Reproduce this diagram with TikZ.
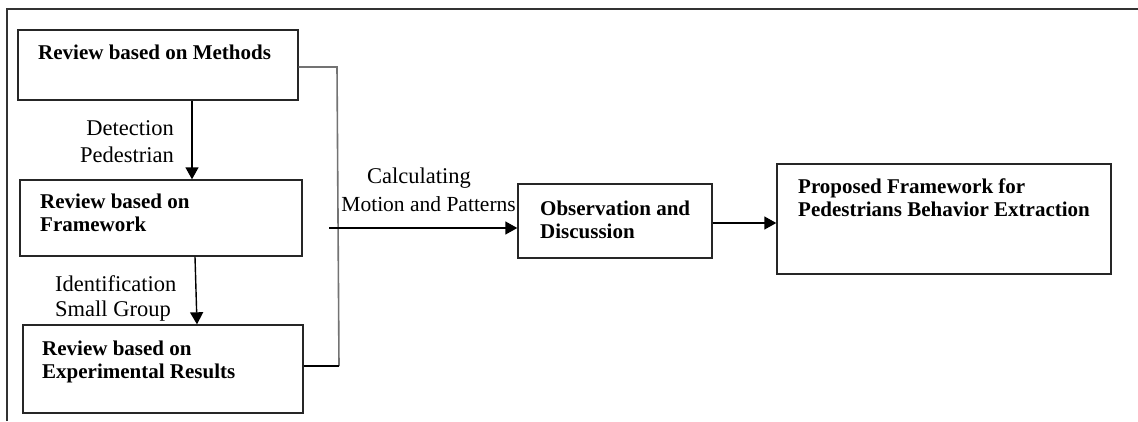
\documentclass[tikz,border=0pt]{standalone}
\usepackage{fontspec}
\setmainfont{Liberation Serif}
\usetikzlibrary{arrows.meta}
\begin{document}
\begin{tikzpicture}[x=1pt,y=-1pt,
  box/.style={draw=black!85,line width=1.4pt,minimum width=#1,inner sep=0pt},
  btxt/.style={anchor=north west,align=left,inner sep=0pt,font=\fontsize{21}{22.5}\selectfont\bfseries},
  ltxt/.style={inner sep=0pt,font=\fontsize{22.5}{27}\selectfont},
  conn/.style={line width=1.4pt,-{Triangle[length=12pt,width=13pt]}},
  gline/.style={draw=black!55,line width=1.6pt}]
\useasboundingbox (0,0) rectangle (1138,421);
\fill[white] (0,0) rectangle (1138,421);
\draw[line width=1.4pt,black!80] (7,421) -- (7,9) -- (1138,9);
% boxes
\node[box=280pt,minimum height=70pt] (m) at (158,65) {};
\node[box=282pt,minimum height=76pt] (f) at (161,218) {};
\node[box=280pt,minimum height=88pt] (e) at (163,369) {};
\node[box=194pt,minimum height=74pt] (o) at (615,221) {};
\node[box=334pt,minimum height=110pt] (p) at (944,219) {};
% box texts
\node[btxt] (mt) at (38,45) {Review based on Methods};
\node[btxt] (ft) at (40,194) {Review based on\\Framework};
\node[btxt] (et) at (42,341) {Review based on\\Experimental Results};
\node[btxt] (ot) at (540,201) {Observation and\\Discussion};
\node[btxt] (pt) at (798,179) {Proposed Framework for\\Pedestrians Behavior Extraction};
% labels
\node[ltxt,anchor=east] (l1) at (174,128) {Detection};
\node[ltxt,anchor=east] (l2) at (174,155) {Pedestrian};
\node[ltxt,anchor=west] (l3) at (55,284) {Identification};
\node[ltxt,anchor=west] (l4) at (55,311) {Small Group};
\node[ltxt] (l5) at (419,178) {Calculating};
\node[ltxt,font=\fontsize{21.5}{27}\selectfont,anchor=east] (l6) at (516,204) {Motion and Patterns};
% connectors
\draw[conn] (m.south -| 192,0) -- (f.north -| 192,0);
\draw[conn] (f.south -| 195,0) -- (e.north -| 197,0);
\coordinate (jt) at (337,67);
\coordinate (jb) at (339,366);
\draw[gline] (m.east |- jt) -- (jt) -- (jb);
\draw[line width=1.4pt] (e.east |- jb) -- (jb);
\coordinate (cs) at (329,228);
\draw[conn] (cs) -- (o.west |- cs);
\draw[conn] (o.east |- 0,223) -- (p.west |- 0,223);
\end{tikzpicture}
\end{document}
